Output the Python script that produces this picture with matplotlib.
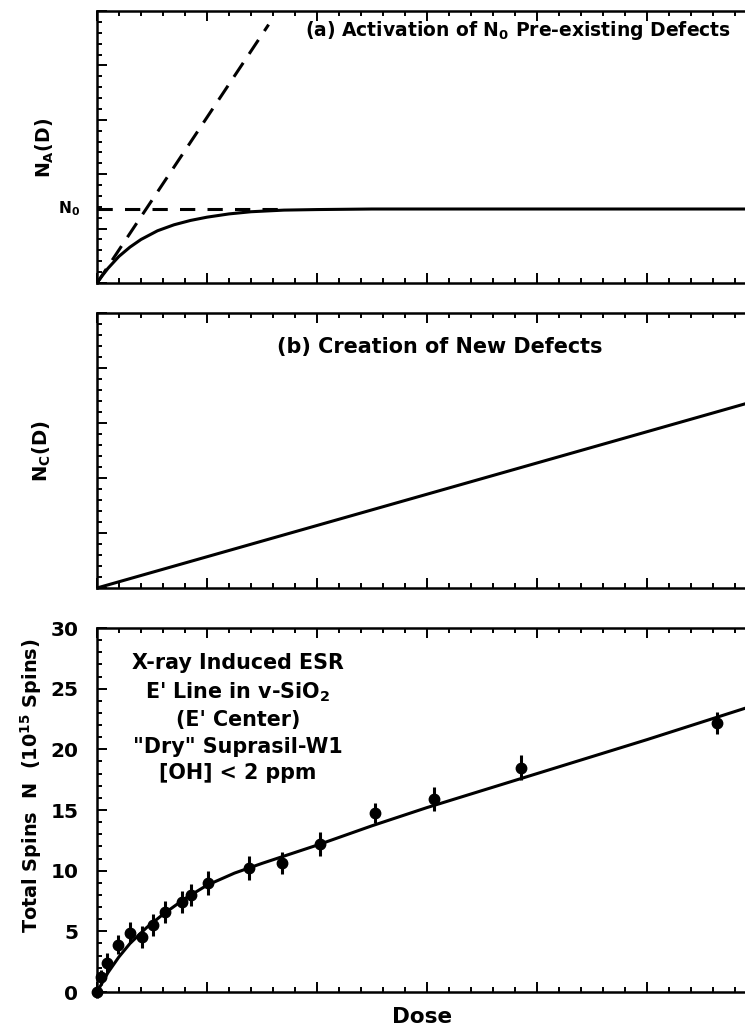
import matplotlib
matplotlib.use("Agg")
import matplotlib.pyplot as plt
from matplotlib.ticker import MultipleLocator, NullFormatter
import matplotlib.transforms as mtransforms

plt.rcParams['font.family'] = ['DejaVu Sans']
plt.rcParams['font.weight'] = 'bold'
plt.rcParams['mathtext.fontset'] = 'custom'
plt.rcParams['mathtext.rm'] = 'DejaVu Sans:bold'
plt.rcParams['mathtext.it'] = 'DejaVu Sans:bold'
plt.rcParams['mathtext.bf'] = 'DejaVu Sans:bold'
plt.rcParams['mathtext.default'] = 'rm'

# ---------------- data ----------------
# Panel (a): activation of pre-existing defects
a_dose = [0, 0.05, 0.1, 0.2, 0.3, 0.4, 0.55, 0.7, 0.85, 1.0, 1.2, 1.4, 1.7, 2.0, 2.5, 6.0]
a_activated = [0, 0.14, 0.27, 0.49, 0.66, 0.80, 0.96, 1.07, 1.15, 1.21, 1.27, 1.31, 1.34, 1.35, 1.36, 1.36]
a_slope_dose = [0, 1.56]
a_slope_value = [0, 4.75]
a_n0_dose = [0, 1.7]
a_n0_value = [1.36, 1.36]
N0_level = 1.36

# Panel (b): creation of new defects
b_dose = [0, 6.0]
b_created = [0, 3.41]

# Panel (c): measured total spins
c_dose = [0, 0.04, 0.09, 0.19, 0.30, 0.41, 0.51, 0.62, 0.77, 0.85, 1.01, 1.38, 1.68,
          2.03, 2.53, 3.06, 3.85, 5.64]
c_spins = [0, 1.2, 2.4, 3.9, 4.9, 4.5, 5.5, 6.6, 7.4, 8.0, 9.0, 10.2, 10.6,
           12.2, 14.75, 15.9, 18.5, 22.2]
c_err = [0.5, 0.6, 0.8, 0.8, 0.9, 0.9, 0.9, 0.9, 0.9, 0.9, 1.0, 1.0, 0.9,
         1.0, 0.8, 1.0, 1.0, 0.9]
c_fit_dose = [0, 0.05, 0.1, 0.2, 0.3, 0.45, 0.6, 0.8, 1.0, 1.25, 1.5, 2.0, 2.5, 3.0, 4.0, 5.0, 6.0]
c_fit_spins = [0, 0.8, 1.6, 2.9, 4.0, 5.3, 6.4, 7.7, 8.8, 9.8, 10.6, 12.1, 13.7, 15.2, 18.0, 20.8, 23.7]
c_yticks = [0, 5, 10, 15, 20, 25, 30]
c_lines = ['X-ray Induced ESR', "E' Line in v-SiO$_2$", "(E' Center)",
           '"Dry" Suprasil-W1', '[OH] < 2 ppm']

# ---------------- layout ----------------
W, H = 745, 1034
fig = plt.figure(figsize=(W / 100, H / 100), dpi=100)

def box(left, top, right, bottom):
    return [left / W, 1 - bottom / H, (right - left) / W, (bottom - top) / H]

def fx(x):
    return x / W

def fy(y):
    return 1 - y / H

x_left, x_right = 97, 757  # right spine lies just beyond the cropped picture
ax_a = fig.add_axes(box(x_left, 11, x_right, 283))
ax_b = fig.add_axes(box(x_left, 313, x_right, 588))
ax_c = fig.add_axes(box(x_left, 628, x_right, 992))

for ax in (ax_a, ax_b, ax_c):
    ax.set_xlim(0, 6)
    ax.xaxis.set_major_locator(MultipleLocator(1))
    ax.xaxis.set_minor_locator(MultipleLocator(0.2))
    ax.xaxis.set_major_formatter(NullFormatter())
    ax.tick_params(which='both', direction='in', top=True, right=False, width=1.4)
    ax.tick_params(which='major', length=7)
    ax.tick_params(which='minor', length=3.5)
    for s in ax.spines.values():
        s.set_linewidth(1.8)

for ax in (ax_a, ax_b):
    ax.set_ylim(0, 5)
    ax.yaxis.set_major_locator(MultipleLocator(1))
    ax.yaxis.set_minor_locator(MultipleLocator(0.2))
    ax.yaxis.set_major_formatter(NullFormatter())

# Panel (a)
ax_a.plot(a_dose, a_activated, color='black', lw=2.2)
ax_a.plot(a_slope_dose, a_slope_value, color='black', lw=2.2, linestyle=(0, (5.5, 3.5)))
ax_a.plot(a_n0_dose, a_n0_value, color='black', lw=2.2, linestyle=(0, (5.0, 4.0)))
trans_a = mtransforms.blended_transform_factory(ax_a.transAxes, ax_a.transData)
t_n0 = ax_a.text(-0.026, N0_level, 'N$_0$', transform=trans_a, ha='right', va='center', fontsize=12)

# Panel (b)
ax_b.plot(b_dose, b_created, color='black', lw=2.2)

# Panel (c)
ax_c.set_ylim(0, 30)
ax_c.set_yticks(c_yticks)
ax_c.yaxis.set_minor_locator(MultipleLocator(1))
ax_c.tick_params(axis='y', which='major', labelsize=14.5, pad=13.5)
ax_c.plot(c_fit_dose, c_fit_spins, color='black', lw=2.2)
ax_c.errorbar(c_dose, c_spins, yerr=c_err, fmt='o', color='black', ms=7.5, elinewidth=2.2,
              capsize=0, clip_on=False, zorder=5)

# ---------------- texts (sizes fitted to the widths seen in the picture) ----------------
texts = []  # (text object, target length in px, along vertical?)
t = fig.text(fx(305), fy(31), '(a) Activation of N$_0$ Pre-existing Defects', ha='left', va='center', fontsize=14)
texts.append((t, 427, False))
t = fig.text(fx(277), fy(347), '(b) Creation of New Defects', ha='left', va='center', fontsize=14)
texts.append((t, 326, False))
texts.append((t_n0, 22, False))

c_y = [663, 692, 720, 747, 773]
c_objs = []
for txt, yp in zip(c_lines, c_y):
    c_objs.append(fig.text(fx(238), fy(yp), txt, ha='center', va='center', fontsize=13))

t = fig.text(fx(45), fy(148), 'N$_A$(D)', rotation=90, ha='center', va='center', fontsize=13)
texts.append((t, 60, True))
t = fig.text(fx(42), fy(451), 'N$_C$(D)', rotation=90, ha='center', va='center', fontsize=13)
texts.append((t, 62, True))
t = fig.text(fx(31), fy(786), 'Total Spins  N  (10$^{15}$ Spins)', rotation=90,
             ha='center', va='center', fontsize=12)
texts.append((t, 295, True))
t = fig.text(fx(422), fy(1017), 'Dose', ha='center', va='center', fontsize=17)
texts.append((t, 60, False))

fig.canvas.draw()
r = fig.canvas.get_renderer()
for obj, target, vertical in texts:
    bb = obj.get_window_extent(r)
    cur = bb.height if vertical else bb.width
    obj.set_fontsize(obj.get_fontsize() * target / cur)
# panel (c) annotation: fit on first line, same size for all lines
bb = c_objs[0].get_window_extent(r)
size_c = c_objs[0].get_fontsize() * 210 / bb.width
for o in c_objs:
    o.set_fontsize(size_c)

fig.savefig('out.png', dpi=100)
